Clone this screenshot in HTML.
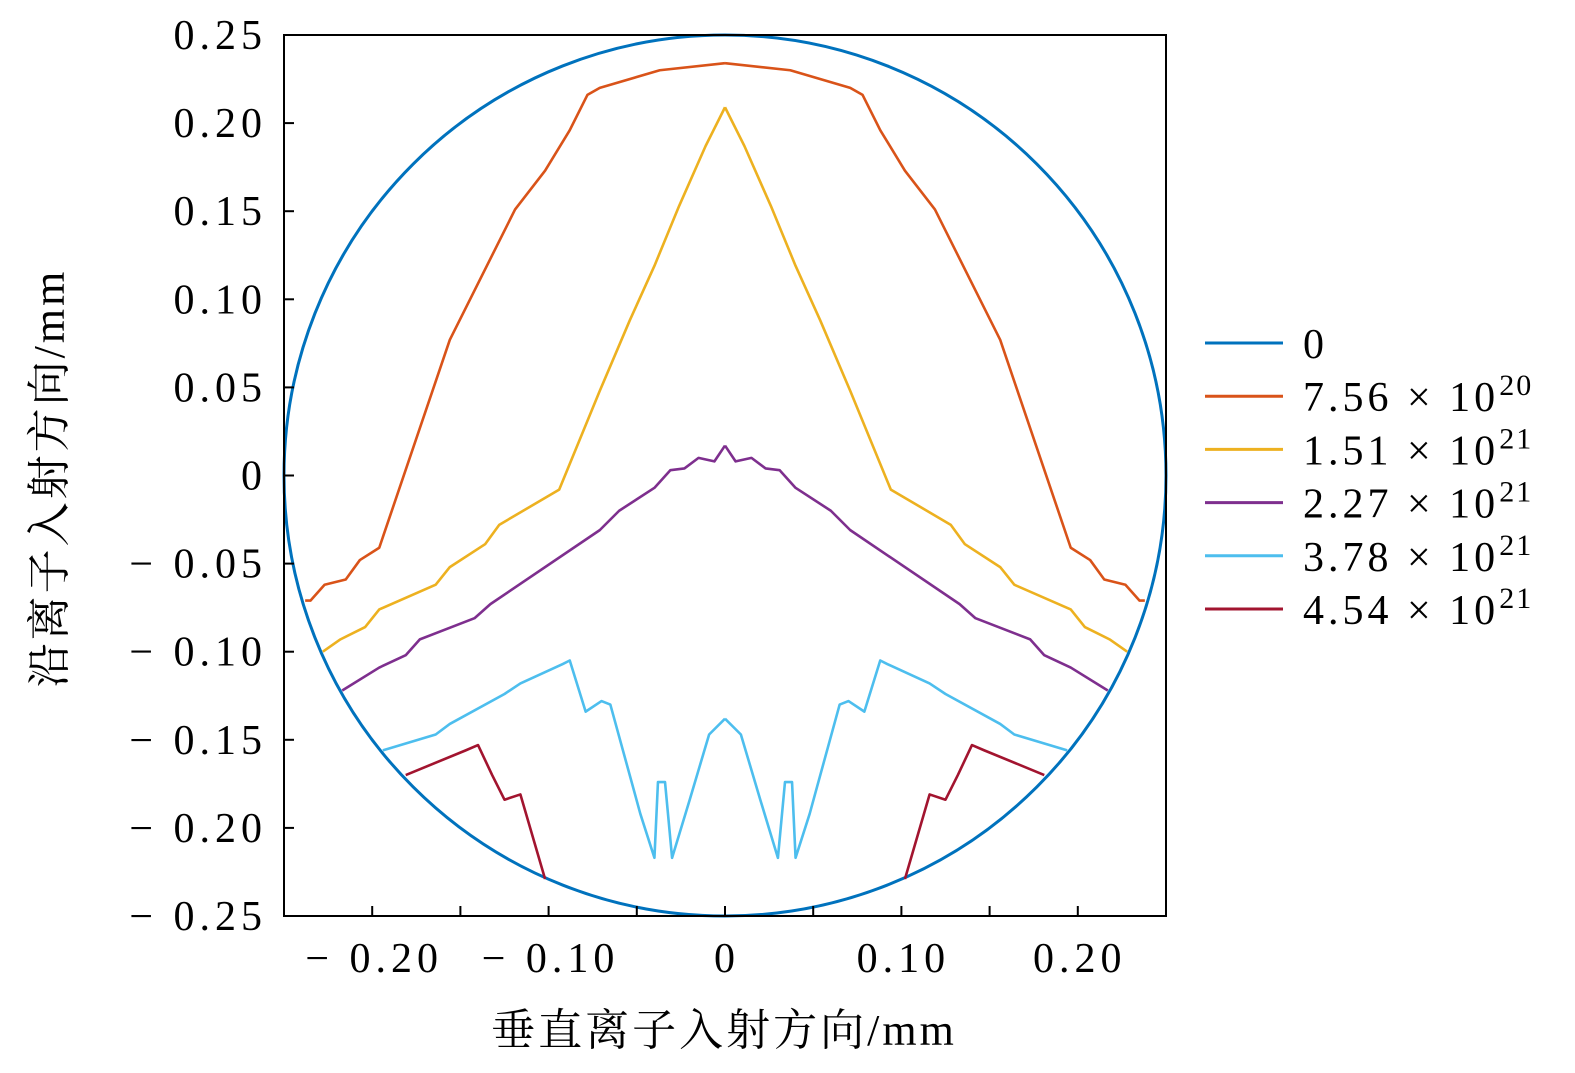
<!DOCTYPE html>
<html><head><meta charset="utf-8"><style>
body{margin:0;background:#fff;}
svg{display:block;font-family:"Liberation Serif","Noto Serif CJK SC",serif;}
</style></head><body>
<svg id="c" width="1575" height="1073" viewBox="0 0 1575 1073" xmlns="http://www.w3.org/2000/svg">
<g id="plot"></g>
<g id="axes"></g>
<g id="legend"></g>
<text x="724" y="1045" font-size="44" letter-spacing="3" text-anchor="middle">垂直离子入射方向/mm</text>
<text transform="translate(64,478) rotate(-90)" font-size="44" letter-spacing="3" text-anchor="middle">沿离子入射方向/mm</text>
</svg>
<script>
const xTicks=[-0.2,-0.15,-0.1,-0.05,0,0.05,0.1,0.15,0.2];
const xTickLabels=["− 0.20","","− 0.10","","0","","0.10","","0.20"];
const yTicks=[0.25,0.2,0.15,0.1,0.05,0,-0.05,-0.1,-0.15,-0.2,-0.25];
const yTickLabels=["0.25","0.20","0.15","0.10","0.05","0","− 0.05","− 0.10","− 0.15","− 0.20","− 0.25"];
const seriesNames=["0","7.56","1.51","2.27","3.78","4.54"];
const seriesExp=["","20","21","21","21","21"];
const colors=["#0072BD","#D95319","#EDB120","#7E2F8E","#4DBEEE","#A2142F"];
const circleRadius=0.25;
const s756=[[0,0.234],[0.037,0.230],[0.071,0.220],[0.078,0.216],[0.088,0.196],[0.102,0.173],[0.119,0.151],[0.156,0.077],[0.196,-0.041],[0.207,-0.048],[0.215,-0.059],[0.227,-0.062],[0.235,-0.071],[0.238,-0.071]];
const s151=[[0,0.209],[0.005,0.199],[0.011,0.187],[0.026,0.153],[0.040,0.119],[0.054,0.088],[0.071,0.048],[0.094,-0.008],[0.128,-0.028],[0.136,-0.039],[0.156,-0.052],[0.164,-0.062],[0.196,-0.076],[0.204,-0.086],[0.218,-0.093],[0.228,-0.100]];
const s227=[[0,0.017],[0.006,0.008],[0.015,0.010],[0.023,0.004],[0.031,0.003],[0.040,-0.007],[0.060,-0.020],[0.071,-0.031],[0.133,-0.073],[0.142,-0.081],[0.173,-0.093],[0.181,-0.102],[0.196,-0.109],[0.217,-0.122]];
const s378=[[0,-0.138],[0.009,-0.147],[0.020,-0.184],[0.030,-0.217],[0.034,-0.174],[0.038,-0.174],[0.040,-0.217],[0.048,-0.192],[0.051,-0.181],[0.065,-0.130],[0.070,-0.128],[0.079,-0.134],[0.088,-0.105],[0.092,-0.107],[0.116,-0.118],[0.125,-0.124],[0.156,-0.141],[0.164,-0.147],[0.194,-0.156]];
const s454=[[0.102,-0.229],[0.116,-0.181],[0.125,-0.184],[0.132,-0.170],[0.140,-0.153],[0.147,-0.156],[0.181,-0.170]];

const L=284,R=1166,T=35,B=916;
const sx=v=>L+(v+0.25)/0.5*(R-L);
const sy=v=>B-(v+0.25)/0.5*(B-T);
const NS="http://www.w3.org/2000/svg";
function mk(tag,attrs,parent){const e=document.createElementNS(NS,tag);for(const k in attrs)e.setAttribute(k,attrs[k]);parent.appendChild(e);return e;}
const plot=document.getElementById('plot'),axes=document.getElementById('axes'),leg=document.getElementById('legend');

const circ=mk('ellipse',{cx:sx(0),cy:sy(0),rx:sx(circleRadius)-sx(0),ry:sy(0)-sy(circleRadius),fill:'none',stroke:colors[0],'stroke-width':3},plot);



function drawHalf(pts,col,name,side){
  const p=pts.map(d=>[sx(side*d[0]),sy(d[1])]);
  const path=mk('polyline',{points:p.map(q=>q.join(',')).join(' '),fill:'none',stroke:col,'stroke-width':2.6,'stroke-linejoin':'round'},plot);
  
  
}
const allS=[s756,s151,s227,s378,s454];
allS.forEach((s,i)=>{drawHalf(s,colors[i+1],'series-'+seriesNames[i+1].replace('.','-'),1);drawHalf(s,colors[i+1],'series-'+seriesNames[i+1].replace('.','-'),-1);});

const fr=mk('rect',{x:L,y:T,width:R-L,height:B-T,fill:'none',stroke:'#000','stroke-width':2},axes);


xTicks.forEach((v,i)=>{
  const t=mk('line',{x1:sx(v),x2:sx(v),y1:B,y2:B-10,stroke:'#000','stroke-width':2},axes);
  
  
  if(xTickLabels[i]){const tx=mk('text',{x:sx(v)+2,y:972,'font-size':42,'letter-spacing':5,'text-anchor':'middle'},axes);tx.textContent=xTickLabels[i];
  
  }
});
yTicks.forEach((v,i)=>{
  const t=mk('line',{x1:L,x2:L+10,y1:sy(v),y2:sy(v),stroke:'#000','stroke-width':2},axes);
  
  
  const tx=mk('text',{x:267,y:sy(v)+14,'font-size':42,'letter-spacing':5,'text-anchor':'end'},axes);tx.textContent=yTickLabels[i];
  
  
});
seriesNames.forEach((n,i)=>{
  const y=343+i*53.2;
  const g=mk('g',{},leg);
  
  
  mk('line',{x1:1205,x2:1283,y1:y,y2:y,stroke:colors[i],'stroke-width':3},g);
  const tx=mk('text',{x:1303,y:y+15,'font-size':42,'letter-spacing':4},g);
  if(seriesExp[i]){tx.textContent=n+" × 10";const ts=mk('tspan',{dy:-16,'font-size':30,'letter-spacing':2},tx);ts.textContent=seriesExp[i];}
  else tx.textContent=n;
});
</script>
</body></html>
